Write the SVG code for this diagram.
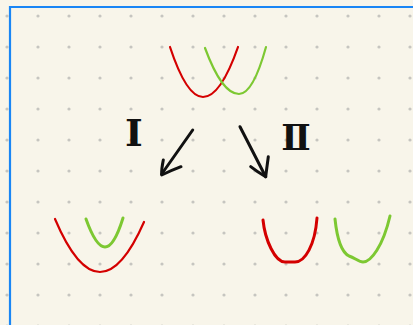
<svg xmlns="http://www.w3.org/2000/svg" width="413" height="325" viewBox="0 0 413 325">
  <style>
    .red { fill: none; stroke: #d40000; stroke-linecap: round; stroke-linejoin: round; }
    .green { fill: none; stroke: #7dc832; stroke-linecap: round; stroke-linejoin: round; }
    .arrow { fill: none; stroke: #111111; stroke-width: 3; stroke-linecap: round; stroke-linejoin: round; }
    .label { font-family: "Liberation Serif", "DejaVu Serif", "Noto Sans CJK SC", serif; font-weight: bold; fill: #111111; }
  </style>
  <defs>
    <pattern id="dots" patternUnits="userSpaceOnUse" width="31" height="31">
      <circle cx="7" cy="16" r="1.6" fill="#c6c5c0"/>
    </pattern>
  </defs>
  <rect width="413" height="325" fill="#f8f5ea"/>
  <rect width="413" height="325" fill="url(#dots)"/>
  <path d="M10,325 V7 H413" fill="none" stroke="#1a86f5" stroke-width="2.2"/>

  <g id="top-parabolas">
    <path class="red" stroke-width="2.2" d="M170,47 Q186.5,97 203,97 Q220.5,97 238,47"/>
    <path class="green" stroke-width="2.2" d="M205,48 Q222,94 239,94 Q253,94 266,47"/>
  </g>

  <g id="result-I">
    <path class="red" stroke-width="2.2" d="M55,219 Q77.5,272 100,272 Q122,272 144,222"/>
    <path class="green" stroke-width="3" d="M86,219 Q96,247 105,247 Q114,247 123,218"/>
  </g>

  <g id="result-II">
    <path class="red" stroke-width="3" d="M263,220 C265,240 275,262 285,262 L295,262 C305,262 315,245 317,218"/>
    <path class="green" stroke-width="3" d="M335,219 C337,238 341,252 349,256 C355,258 359,262 363,262 C371,262 383,246 390,216"/>
  </g>

  <g id="connectors">
    <g id="arrow-I">
      <path class="arrow" d="M192.7,130 L161.7,174"/>
      <path class="arrow" d="M163.3,160 C162,166 161.5,171 161.7,175 C168,172 175,169 181,166.7"/>
    </g>
    <g id="arrow-II">
      <path class="arrow" d="M240,126.7 L265.7,176.7"/>
      <path class="arrow" d="M250.7,166.7 C256,171 261,174 265.7,176.7 C266.5,170 267.5,163 268.3,156.7"/>
    </g>
  </g>

  <g id="label-I">
    <text class="label" x="134" y="146" font-size="38" text-anchor="middle">Ⅰ</text>
  </g>
  <g id="label-II">
    <text class="label" x="296" y="150" font-size="35" text-anchor="middle">Ⅱ</text>
  </g>
</svg>
